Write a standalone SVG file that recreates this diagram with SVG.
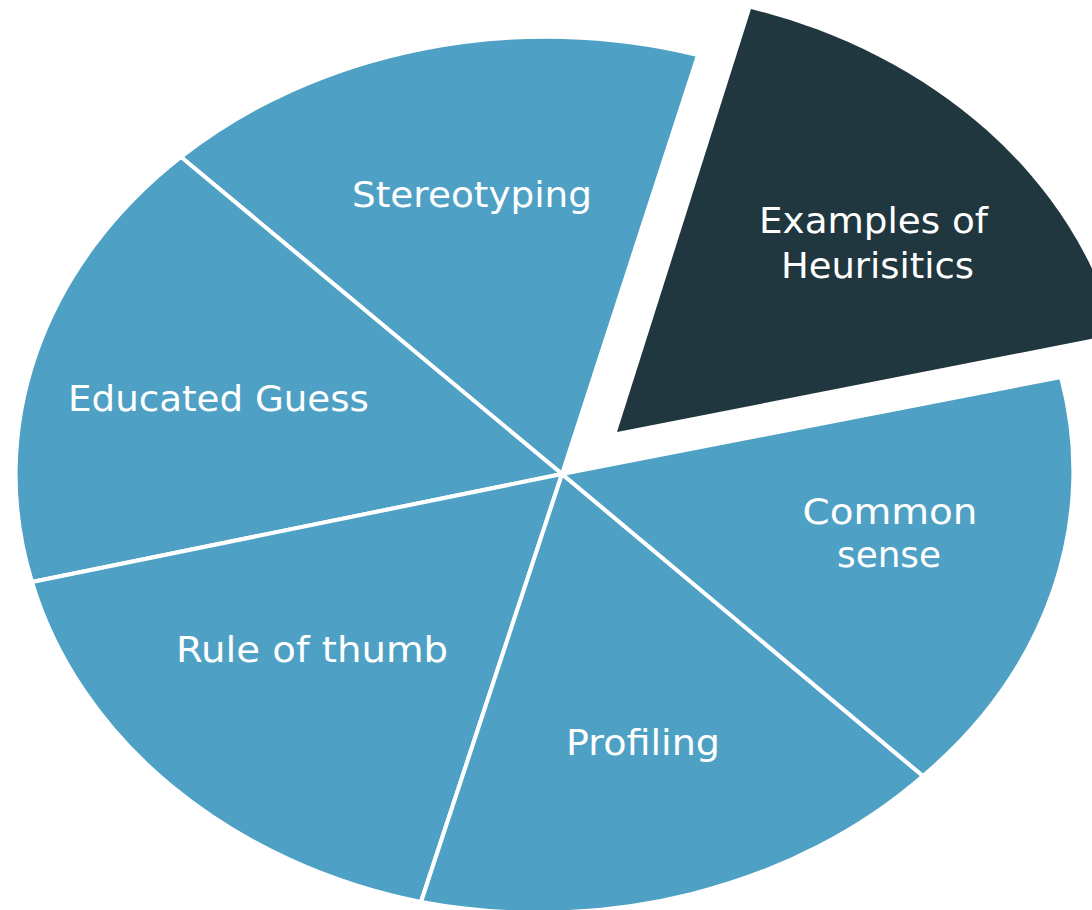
<svg xmlns="http://www.w3.org/2000/svg" width="1092" height="910" viewBox="0 0 1092 910">
<style>
.slice{fill:#4ea1c4;stroke:#ffffff;stroke-width:4;stroke-linejoin:round}
.dark{fill:#21373f}
.lbl{font-family:"DejaVu Sans","Liberation Sans",sans-serif;font-size:35px;fill:#ffffff;text-anchor:middle}
</style>
<rect width="1092" height="910" fill="#ffffff"/>
<g id="stereotyping">
<path class="slice" d="M562,474 L698,55 A530,437 0 0 0 181,157 Z"/>
<text class="lbl" x="472" y="207" textLength="240" lengthAdjust="spacingAndGlyphs">Stereotyping</text>
</g>
<g id="educated-guess">
<path class="slice" d="M562,474 L181,157 A530,437 0 0 0 32,582 Z"/>
<text class="lbl" x="218.5" y="411" textLength="301" lengthAdjust="spacingAndGlyphs">Educated Guess</text>
</g>
<g id="rule-of-thumb">
<path class="slice" d="M562,474 L32,582 A530,437 0 0 0 421,902 Z"/>
<text class="lbl" x="312" y="662" textLength="272" lengthAdjust="spacingAndGlyphs">Rule of thumb</text>
</g>
<g id="profiling">
<path class="slice" d="M562,474 L421,902 A530,437 0 0 0 923,776 Z"/>
<text class="lbl" x="643" y="755" textLength="154" lengthAdjust="spacingAndGlyphs">Profiling</text>
</g>
<g id="common-sense">
<path class="slice" d="M562,474 L923,776 A530,437 0 0 0 1061,377 Z"/>
<text class="lbl" x="890" y="524" textLength="175" lengthAdjust="spacingAndGlyphs">Common</text>
<text class="lbl" x="889" y="567" textLength="104" lengthAdjust="spacingAndGlyphs">sense</text>
</g>
<g id="examples-of-heuristics">
<path class="dark" d="M617,432 L751,9 A530,437 0 0 1 1116,334 Z"/>
<text class="lbl" x="873.5" y="233" textLength="229" lengthAdjust="spacingAndGlyphs">Examples of</text>
<text class="lbl" x="877.5" y="278" textLength="193" lengthAdjust="spacingAndGlyphs">Heurisitics</text>
</g>
<g id="connectors"/>
</svg>
